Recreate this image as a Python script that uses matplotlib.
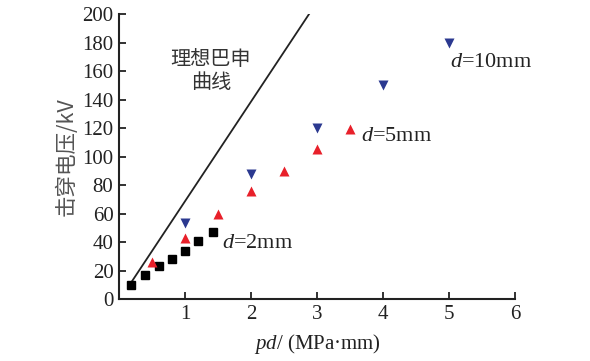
import numpy as np
import matplotlib
matplotlib.use('Agg')
from matplotlib import pyplot as plt

plt.rcParams['font.family'] = ['Liberation Serif', 'Noto Sans CJK SC']
plt.rcParams['mathtext.fontset'] = 'custom'
plt.rcParams['mathtext.rm'] = 'Liberation Serif'
plt.rcParams['mathtext.it'] = 'Liberation Serif:italic'

# d = 2mm
pd_2 = [0.18, 0.39, 0.6, 0.8, 1.0, 1.2, 1.42]
u_2 = [10, 17, 23, 28, 34, 41, 47]
# d = 5mm
pd_5 = [0.5, 1.0, 1.5, 2.0, 2.5, 3.0, 3.5]
u_5 = [26, 43, 60, 76, 90, 105, 119]
# d = 10mm
pd_10 = [1.0, 2.0, 3.0, 4.0, 5.0]
u_10 = [53, 88, 120, 150, 180]
# ideal Paschen line
pd_line = [0.19, 2.88]
u_line = [12, 200]

xticks = [1, 2, 3, 4, 5, 6]
yticks = list(range(0, 201, 20))

fig = plt.figure(figsize=(5.9, 3.61), dpi=100)
ax = fig.add_axes([0.2017, 0.1717, 0.6712, 0.7895])

ax.plot(pd_line, u_line, color='#222222', lw=1.3)
ax.plot(pd_2, u_2, 's', color='black', ms=5.5, ls='none')
ax.plot(pd_5, u_5, '^', color='#e8202a', ms=7.5, ls='none', mec='none')
ax.plot(pd_10, u_10, 'v', color='#2b3990', ms=7.5, ls='none', mec='none')

ax.set_xlim(0, 6)
ax.set_ylim(0, 200)
ax.set_xticks(xticks)
ax.set_yticks(yticks)
ax.tick_params(direction='in', length=5, width=1.3, labelsize=15, pad=4, colors='#222222')
for s in ['top', 'right']:
    ax.spines[s].set_visible(False)
for s in ['left', 'bottom']:
    ax.spines[s].set_linewidth(1.5)
    ax.spines[s].set_color('#222222')

ax.set_ylabel('击穿电压/kV', fontsize=15.5, color='#555555',
              family=['Noto Sans CJK SC', 'Liberation Serif'], labelpad=3)
ax.set_xlabel('$pd$/ (MPa·mm)', fontsize=15, color='#222222', labelpad=6)

ax.text(1.39, 160, '理想巴申\n曲线', fontsize=14.5, color='#333333', ha='center', va='center',
        family=['Noto Sans CJK SC'], linespacing=1.15)
ax.text(1.56, 39, '$d$=2mm', fontsize=16, color='#222222', va='center')
ax.text(3.67, 114, '$d$=5mm', fontsize=16, color='#222222', va='center')
ax.text(5.02, 166, '$d$=10mm', fontsize=16, color='#222222', va='center')

fig.savefig('out.png', dpi=100)
